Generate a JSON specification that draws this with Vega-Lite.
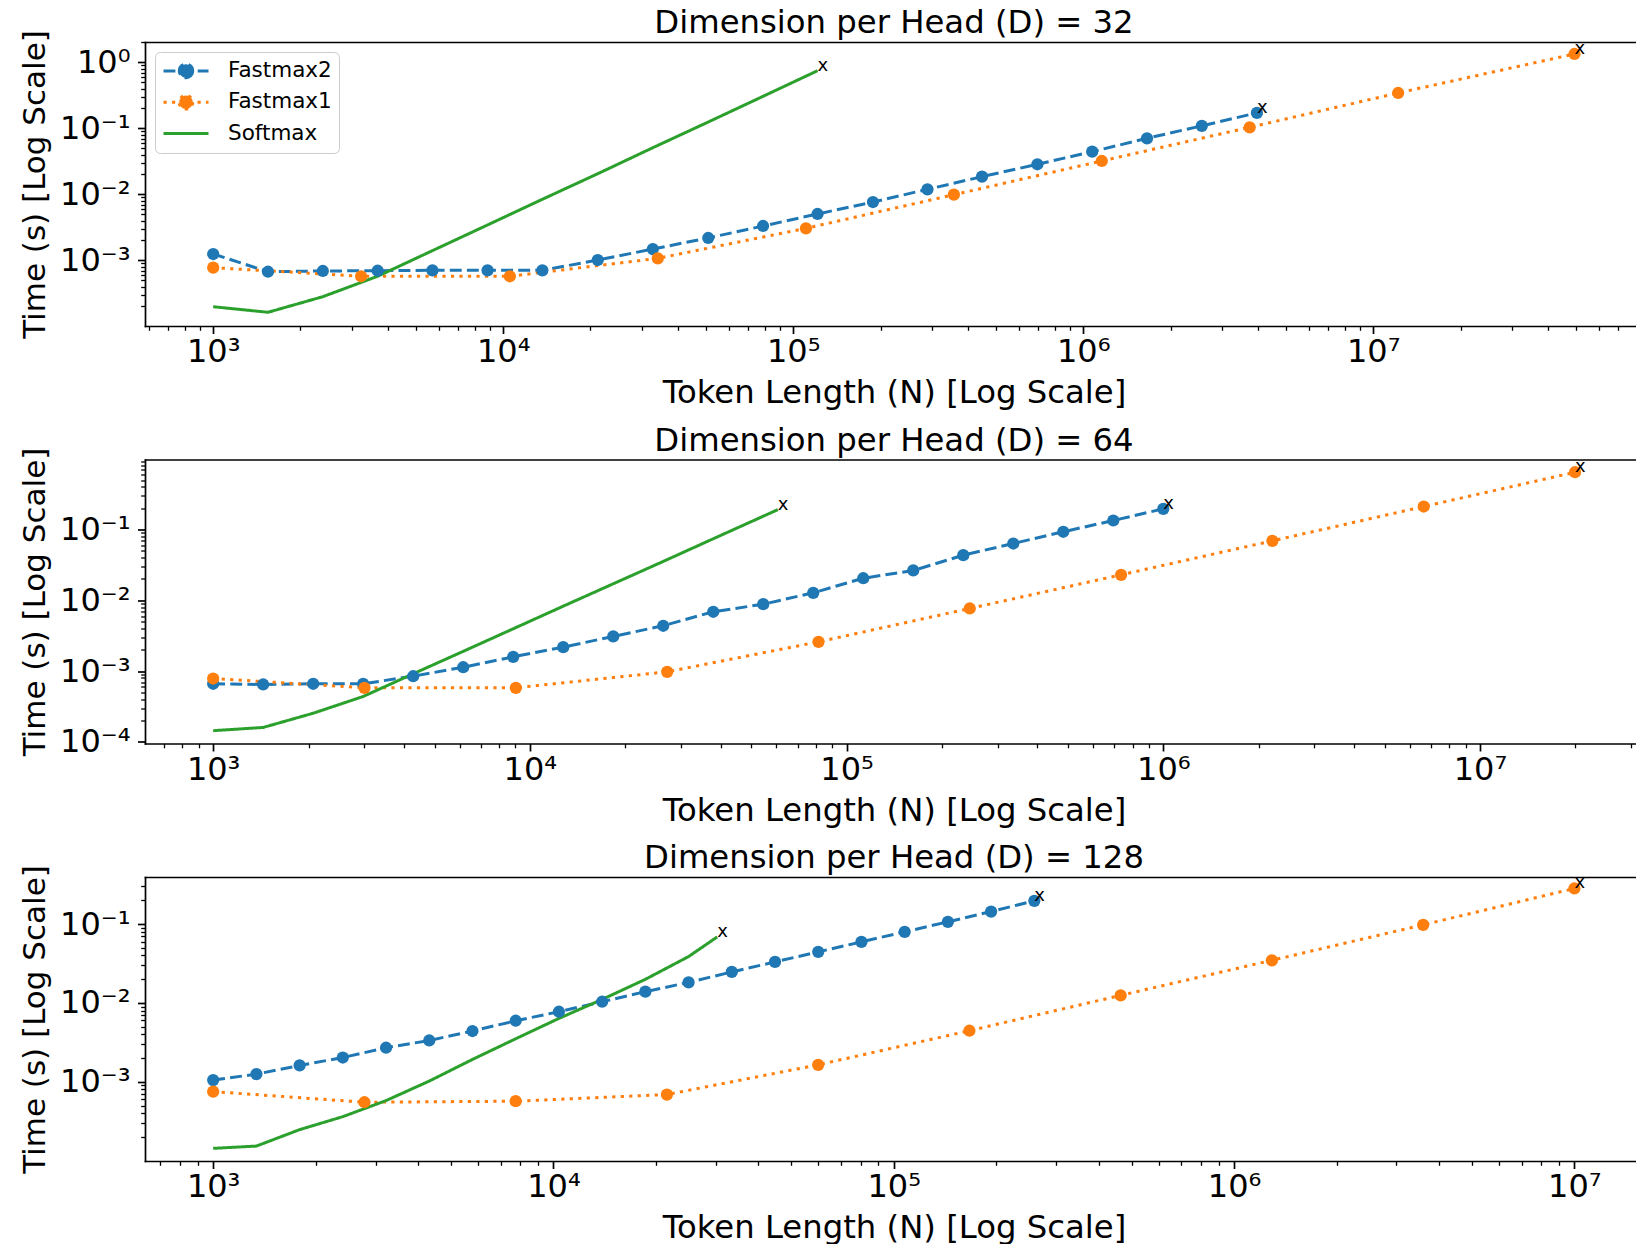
{
  "$schema": "https://vega.github.io/schema/vega-lite/v6.json",
  "padding": {"left": 19, "top": 6, "right": 0, "bottom": 0},
  "autosize": {"type": "pad"},
  "background": "white",
  "spacing": 13.5,
  "resolve": {"legend": {"color": "independent", "strokeDash": "independent", "shape": "independent"}},
  "config": {
    "font": "DejaVu Sans",
    "view": {"stroke": "transparent"},
    "axis": {"grid": false, "domain": false, "domainColor": "#000000", "domainWidth": 1.7, "domainCap": "square", "tickColor": "#000000", "labelColor": "#000000", "titleColor": "#000000", "labelFont": "DejaVu Sans", "titleFont": "DejaVu Sans", "labelFontSize": 32, "titleFontSize": 32.3, "titleFontWeight": "normal", "tickWidth": 1.7, "tickSize": 7.5},
    "axisLeft": {"titleFontSize": 31},
    "title": {"font": "DejaVu Sans", "fontSize": 32.3, "fontWeight": "normal", "color": "#000000", "anchor": "middle", "frame": "group", "baseline": "alphabetic", "offset": -10, "dx": 4}
  },
  "data": {"values": [
    {"D":32,"series":"Fastmax2","N":1000,"t":0.001245},
    {"D":32,"series":"Fastmax2","N":1545,"t":0.000671},
    {"D":32,"series":"Fastmax2","N":2388,"t":0.000689},
    {"D":32,"series":"Fastmax2","N":3690,"t":0.000695},
    {"D":32,"series":"Fastmax2","N":5702,"t":0.000705},
    {"D":32,"series":"Fastmax2","N":8831,"t":0.000705},
    {"D":32,"series":"Fastmax2","N":13646,"t":0.000705},
    {"D":32,"series":"Fastmax2","N":21184,"t":0.00101},
    {"D":32,"series":"Fastmax2","N":32810,"t":0.00148},
    {"D":32,"series":"Fastmax2","N":50933,"t":0.00218},
    {"D":32,"series":"Fastmax2","N":78705,"t":0.00331},
    {"D":32,"series":"Fastmax2","N":121339,"t":0.00503},
    {"D":32,"series":"Fastmax2","N":188365,"t":0.00764},
    {"D":32,"series":"Fastmax2","N":290402,"t":0.0119},
    {"D":32,"series":"Fastmax2","N":447713,"t":0.0185},
    {"D":32,"series":"Fastmax2","N":695024,"t":0.0285},
    {"D":32,"series":"Fastmax2","N":1073989,"t":0.0442},
    {"D":32,"series":"Fastmax2","N":1659587,"t":0.0705},
    {"D":32,"series":"Fastmax2","N":2564484,"t":0.109},
    {"D":32,"series":"Fastmax2","N":3971915,"t":0.171},
    {"D":32,"series":"Fastmax1","N":1000,"t":0.000773},
    {"D":32,"series":"Fastmax1","N":3236,"t":0.000573},
    {"D":32,"series":"Fastmax1","N":10544,"t":0.000573},
    {"D":32,"series":"Fastmax1","N":34119,"t":0.00107},
    {"D":32,"series":"Fastmax1","N":110662,"t":0.00305},
    {"D":32,"series":"Fastmax1","N":358096,"t":0.00986},
    {"D":32,"series":"Fastmax1","N":1159000,"t":0.032},
    {"D":32,"series":"Fastmax1","N":3750000,"t":0.1035},
    {"D":32,"series":"Fastmax1","N":12190000,"t":0.343},
    {"D":32,"series":"Fastmax1","N":49430000,"t":1.337},
    {"D":32,"series":"Softmax","N":1000,"t":0.000198},
    {"D":32,"series":"Softmax","N":1545,"t":0.000163},
    {"D":32,"series":"Softmax","N":2388,"t":0.000281},
    {"D":32,"series":"Softmax","N":3690,"t":0.000573},
    {"D":32,"series":"Softmax","N":5702,"t":0.0014},
    {"D":32,"series":"Softmax","N":8831,"t":0.00343},
    {"D":32,"series":"Softmax","N":13646,"t":0.0084},
    {"D":32,"series":"Softmax","N":21184,"t":0.0205},
    {"D":32,"series":"Softmax","N":32810,"t":0.0508},
    {"D":32,"series":"Softmax","N":50933,"t":0.1245},
    {"D":32,"series":"Softmax","N":78705,"t":0.305},
    {"D":32,"series":"Softmax","N":121339,"t":0.746},
    {"D":64,"series":"Fastmax2","N":1000,"t":0.000662},
    {"D":64,"series":"Fastmax2","N":1438,"t":0.000647},
    {"D":64,"series":"Fastmax2","N":2069,"t":0.000662},
    {"D":64,"series":"Fastmax2","N":2976,"t":0.000662},
    {"D":64,"series":"Fastmax2","N":4281,"t":0.000847},
    {"D":64,"series":"Fastmax2","N":6158,"t":0.001135},
    {"D":64,"series":"Fastmax2","N":8859,"t":0.00159},
    {"D":64,"series":"Fastmax2","N":12743,"t":0.00218},
    {"D":64,"series":"Fastmax2","N":18330,"t":0.00309},
    {"D":64,"series":"Fastmax2","N":26367,"t":0.00437},
    {"D":64,"series":"Fastmax2","N":37927,"t":0.00689},
    {"D":64,"series":"Fastmax2","N":54556,"t":0.00881},
    {"D":64,"series":"Fastmax2","N":78476,"t":0.01276},
    {"D":64,"series":"Fastmax2","N":112884,"t":0.0205},
    {"D":64,"series":"Fastmax2","N":162378,"t":0.0264},
    {"D":64,"series":"Fastmax2","N":233572,"t":0.0434},
    {"D":64,"series":"Fastmax2","N":335982,"t":0.0634},
    {"D":64,"series":"Fastmax2","N":483293,"t":0.0929},
    {"D":64,"series":"Fastmax2","N":695193,"t":0.134},
    {"D":64,"series":"Fastmax2","N":1000000,"t":0.196},
    {"D":64,"series":"Fastmax1","N":1000,"t":0.000785},
    {"D":64,"series":"Fastmax1","N":3005,"t":0.000581},
    {"D":64,"series":"Fastmax1","N":9029,"t":0.000581},
    {"D":64,"series":"Fastmax1","N":27135,"t":0.000977},
    {"D":64,"series":"Fastmax1","N":81539,"t":0.00259},
    {"D":64,"series":"Fastmax1","N":244840,"t":0.00766},
    {"D":64,"series":"Fastmax1","N":735700,"t":0.0229},
    {"D":64,"series":"Fastmax1","N":2210600,"t":0.0692},
    {"D":64,"series":"Fastmax1","N":6642000,"t":0.211},
    {"D":64,"series":"Fastmax1","N":19950000,"t":0.644},
    {"D":64,"series":"Softmax","N":1000,"t":0.000144},
    {"D":64,"series":"Softmax","N":1438,"t":0.00016},
    {"D":64,"series":"Softmax","N":2069,"t":0.000254},
    {"D":64,"series":"Softmax","N":2976,"t":0.000438},
    {"D":64,"series":"Softmax","N":4281,"t":0.000916},
    {"D":64,"series":"Softmax","N":6158,"t":0.0019},
    {"D":64,"series":"Softmax","N":8859,"t":0.00396},
    {"D":64,"series":"Softmax","N":12743,"t":0.00826},
    {"D":64,"series":"Softmax","N":18330,"t":0.0171},
    {"D":64,"series":"Softmax","N":26367,"t":0.0354},
    {"D":64,"series":"Softmax","N":37927,"t":0.074},
    {"D":64,"series":"Softmax","N":54556,"t":0.154},
    {"D":64,"series":"Softmax","N":60674,"t":0.191},
    {"D":128,"series":"Fastmax2","N":1000,"t":0.00105},
    {"D":128,"series":"Fastmax2","N":1340,"t":0.00125},
    {"D":128,"series":"Fastmax2","N":1795,"t":0.00161},
    {"D":128,"series":"Fastmax2","N":2404,"t":0.00203},
    {"D":128,"series":"Fastmax2","N":3221,"t":0.0027},
    {"D":128,"series":"Fastmax2","N":4315,"t":0.00334},
    {"D":128,"series":"Fastmax2","N":5781,"t":0.0044},
    {"D":128,"series":"Fastmax2","N":7745,"t":0.00594},
    {"D":128,"series":"Fastmax2","N":10375,"t":0.00773},
    {"D":128,"series":"Fastmax2","N":13900,"t":0.01035},
    {"D":128,"series":"Fastmax2","N":18621,"t":0.01387},
    {"D":128,"series":"Fastmax2","N":24946,"t":0.0182},
    {"D":128,"series":"Fastmax2","N":33420,"t":0.0247},
    {"D":128,"series":"Fastmax2","N":44771,"t":0.0331},
    {"D":128,"series":"Fastmax2","N":59979,"t":0.0444},
    {"D":128,"series":"Fastmax2","N":80353,"t":0.0594},
    {"D":128,"series":"Fastmax2","N":107647,"t":0.0796},
    {"D":128,"series":"Fastmax2","N":144212,"t":0.1066},
    {"D":128,"series":"Fastmax2","N":193197,"t":0.144},
    {"D":128,"series":"Fastmax2","N":258821,"t":0.197},
    {"D":128,"series":"Fastmax1","N":1000,"t":0.00075},
    {"D":128,"series":"Fastmax1","N":2783,"t":0.00055},
    {"D":128,"series":"Fastmax1","N":7743,"t":0.000567},
    {"D":128,"series":"Fastmax1","N":21544,"t":0.000688},
    {"D":128,"series":"Fastmax1","N":59948,"t":0.00164},
    {"D":128,"series":"Fastmax1","N":166810,"t":0.00444},
    {"D":128,"series":"Fastmax1","N":464159,"t":0.01245},
    {"D":128,"series":"Fastmax1","N":1291550,"t":0.0347},
    {"D":128,"series":"Fastmax1","N":3593814,"t":0.0977},
    {"D":128,"series":"Fastmax1","N":10000000,"t":0.2825},
    {"D":128,"series":"Softmax","N":1000,"t":0.000143},
    {"D":128,"series":"Softmax","N":1340,"t":0.000153},
    {"D":128,"series":"Softmax","N":1795,"t":0.000247},
    {"D":128,"series":"Softmax","N":2404,"t":0.000361},
    {"D":128,"series":"Softmax","N":3221,"t":0.000577},
    {"D":128,"series":"Softmax","N":4315,"t":0.00102},
    {"D":128,"series":"Softmax","N":5781,"t":0.00192},
    {"D":128,"series":"Softmax","N":7745,"t":0.00351},
    {"D":128,"series":"Softmax","N":10375,"t":0.00636},
    {"D":128,"series":"Softmax","N":13900,"t":0.01107},
    {"D":128,"series":"Softmax","N":18621,"t":0.0199},
    {"D":128,"series":"Softmax","N":24946,"t":0.0387},
    {"D":128,"series":"Softmax","N":30290,"t":0.0687}
  ]},
  "vconcat": [
    {
      "title": {"text": "Dimension per Head (D) = 32"},
      "width": 1490, "height": 284,
      "transform": [{"filter": "datum.D == 32"}],
      "resolve": {"axis": {"x": "independent", "y": "independent"}},
      "layer": [
        {
          "mark": {"type": "line", "strokeWidth": 3, "strokeCap": "butt"},
          "encoding": {
            "x": {"field": "N", "type": "quantitative", "scale": {"type": "log", "domain": [581.9, 79930000], "nice": false},
              "axis": {"orient": "bottom", "domain": true, "values": [1000, 10000, 100000, 1000000, 10000000], "title": "Token Length (N) [Log Scale]", "titleX": 749, "labelExpr": "'10' + (datum.value < 1 ? '⁻' : '') + ['⁰','¹','²','³','⁴','⁵','⁶','⁷','⁸','⁹'][abs(round(log(datum.value)/LN10))]", "tickSize": 7.5, "labelPadding": 3, "titlePadding": 9, "labelFlush": false, "labelOverlap": false}},
            "y": {"field": "t", "type": "quantitative", "scale": {"type": "log", "domain": [0.00010104, 2.03], "nice": false},
              "axis": {"orient": "left", "domain": true, "values": [0.001, 0.01, 0.1, 1], "title": "Time (s) [Log Scale]", "labelExpr": "'10' + (datum.value < 0.99 ? '⁻' : '') + ['⁰','¹','²','³','⁴','⁵','⁶','⁷','⁸','⁹'][abs(round(log(datum.value)/LN10))]", "tickSize": 7.5, "labelPadding": 7.5, "titlePadding": 8, "labelFlush": false, "labelOverlap": false}},
            "color": {"field": "series", "type": "nominal", "scale": {"domain": ["Fastmax2", "Fastmax1", "Softmax"], "range": ["#1f77b4", "#ff7f0e", "#2ca02c"]},
              "legend": {"title": null, "orient": "top-left", "offset": 10, "padding": 7, "fillColor": "white", "strokeColor": "#cccccc", "cornerRadius": 5, "labelFont": "DejaVu Sans", "labelFontSize": 21.5, "labelColor": "#000000", "symbolSize": 2025, "symbolStrokeWidth": 3, "symbolOpacity": 1, "clipHeight": 24, "rowPadding": 7.3, "labelOffset": 18}},
            "strokeDash": {"field": "series", "type": "nominal", "scale": {"domain": ["Fastmax2", "Fastmax1", "Softmax"], "range": [[11.9, 5.2], [3.2, 5.3], [1, 0]]},
              "legend": {"title": null, "orient": "top-left", "offset": 10, "padding": 7, "fillColor": "white", "strokeColor": "#cccccc", "cornerRadius": 5, "labelFont": "DejaVu Sans", "labelFontSize": 21.5, "labelColor": "#000000", "symbolSize": 2025, "symbolStrokeWidth": 3, "symbolOpacity": 1, "clipHeight": 24, "rowPadding": 7.3, "labelOffset": 18}}
          }
        },
        {
          "transform": [{"filter": "datum.series != 'Softmax'"}],
          "mark": {"type": "circle", "size": 150, "opacity": 1},
          "encoding": {
            "x": {"field": "N", "type": "quantitative", "scale": {"type": "log", "domain": [581.9, 79930000], "nice": false},
              "axis": {"orient": "bottom", "values": [600,700,800,900,2000,3000,4000,5000,6000,7000,8000,9000,20000,30000,40000,50000,60000,70000,80000,90000,200000,300000,400000,500000,600000,700000,800000,900000,2000000,3000000,4000000,5000000,6000000,7000000,8000000,9000000,20000000,30000000,40000000,50000000,60000000,70000000], "labels": false, "title": null, "tickSize": 4.3, "tickWidth": 1.3}},
            "y": {"field": "t", "type": "quantitative", "scale": {"type": "log", "domain": [0.00010104, 2.03], "nice": false},
              "axis": {"orient": "left", "values": [0.0002,0.0003,0.0004,0.0005,0.0006,0.0007,0.0008,0.0009,0.002,0.003,0.004,0.005,0.006,0.007,0.008,0.009,0.02,0.03,0.04,0.05,0.06,0.07,0.08,0.09,0.2,0.3,0.4,0.5,0.6,0.7,0.8,0.9,2], "labels": false, "title": null, "tickSize": 4.3, "tickWidth": 1.3}},
            "color": {"field": "series", "type": "nominal", "scale": {"domain": ["Fastmax2", "Fastmax1", "Softmax"], "range": ["#1f77b4", "#ff7f0e", "#2ca02c"]},
              "legend": {"title": null, "orient": "top-left", "offset": 10, "padding": 7, "fillColor": "white", "strokeColor": "#cccccc", "cornerRadius": 5, "labelFont": "DejaVu Sans", "labelFontSize": 21.5, "labelColor": "#000000", "symbolSize": 2025, "symbolStrokeWidth": 3, "symbolOpacity": 1, "clipHeight": 24, "rowPadding": 7.3, "labelOffset": 18}}
          }
        },
        {
          "mark": {"type": "point", "filled": true, "opacity": 0, "size": 10},
          "encoding": {
            "x": {"field": "N", "type": "quantitative", "scale": {"type": "log", "domain": [581.9, 79930000], "nice": false}, "axis": null},
            "y": {"field": "t", "type": "quantitative", "scale": {"type": "log", "domain": [0.00010104, 2.03], "nice": false}, "axis": null},
            "color": {"field": "series", "type": "nominal", "scale": {"domain": ["Fastmax2", "Fastmax1", "Softmax"], "range": ["#1f77b4", "#ff7f0e", "#2ca02c"]},
              "legend": {"title": null, "orient": "top-left", "offset": 10, "padding": 7, "fillColor": "white", "strokeColor": "#cccccc", "cornerRadius": 5, "labelFont": "DejaVu Sans", "labelFontSize": 21.5, "labelColor": "#000000", "symbolSize": 2025, "symbolStrokeWidth": 3, "symbolOpacity": 1, "clipHeight": 24, "rowPadding": 7.3, "labelOffset": 18}},
            "shape": {"field": "series", "type": "nominal", "scale": {"domain": ["Fastmax2", "Fastmax1", "Softmax"], "range": ["M-1,0L1,0M0.3,0A0.3,0.3,0,1,1,-0.3,0A0.3,0.3,0,1,1,0.3,0Z", "M-1,0L1,0M0.3,0A0.3,0.3,0,1,1,-0.3,0A0.3,0.3,0,1,1,0.3,0Z", "M-1,0L1,0"]},
              "legend": {"title": null, "orient": "top-left", "offset": 10, "padding": 7, "fillColor": "white", "strokeColor": "#cccccc", "cornerRadius": 5, "labelFont": "DejaVu Sans", "labelFontSize": 21.5, "labelColor": "#000000", "symbolSize": 2025, "symbolStrokeWidth": 3, "symbolOpacity": 1, "clipHeight": 24, "rowPadding": 7.3, "labelOffset": 18}}
          }
        },
        {
          "transform": [{"aggregate": [{"op": "argmax", "field": "N", "as": "last"}], "groupby": ["series"]}],
          "mark": {"type": "text", "text": "x", "align": "left", "baseline": "alphabetic", "fontSize": 18, "font": "DejaVu Sans", "color": "#000000"},
          "encoding": {
            "x": {"field": "last.N", "type": "quantitative", "scale": {"type": "log", "domain": [581.9, 79930000], "nice": false}, "axis": {"orient": "top", "domain": true, "ticks": false, "labels": false, "title": null}},
            "y": {"field": "last.t", "type": "quantitative", "scale": {"type": "log", "domain": [0.00010104, 2.03], "nice": false}, "axis": null}
          }
        }
      ]
    },
    {
      "title": {"text": "Dimension per Head (D) = 64"},
      "width": 1490, "height": 284,
      "transform": [{"filter": "datum.D == 64"}],
      "resolve": {"axis": {"x": "independent", "y": "independent"}},
      "layer": [
        {
          "mark": {"type": "line", "strokeWidth": 3, "strokeCap": "butt"},
          "encoding": {
            "x": {"field": "N", "type": "quantitative", "scale": {"type": "log", "domain": [609.2, 30860000], "nice": false},
              "axis": {"orient": "bottom", "domain": true, "values": [1000, 10000, 100000, 1000000, 10000000], "title": "Token Length (N) [Log Scale]", "titleX": 749, "labelExpr": "'10' + (datum.value < 1 ? '⁻' : '') + ['⁰','¹','²','³','⁴','⁵','⁶','⁷','⁸','⁹'][abs(round(log(datum.value)/LN10))]", "tickSize": 7.5, "labelPadding": 3, "titlePadding": 9, "labelFlush": false, "labelOverlap": false}},
            "y": {"field": "t", "type": "quantitative", "scale": {"type": "log", "domain": [0.00009493, 0.9743], "nice": false},
              "axis": {"orient": "left", "domain": true, "values": [0.0001, 0.001, 0.01, 0.1], "title": "Time (s) [Log Scale]", "labelExpr": "'10' + (datum.value < 0.99 ? '⁻' : '') + ['⁰','¹','²','³','⁴','⁵','⁶','⁷','⁸','⁹'][abs(round(log(datum.value)/LN10))]", "tickSize": 7.5, "labelPadding": 7.5, "titlePadding": 8, "labelFlush": false, "labelOverlap": false}},
            "color": {"field": "series", "type": "nominal", "scale": {"domain": ["Fastmax2", "Fastmax1", "Softmax"], "range": ["#1f77b4", "#ff7f0e", "#2ca02c"]}, "legend": null},
            "strokeDash": {"field": "series", "type": "nominal", "scale": {"domain": ["Fastmax2", "Fastmax1", "Softmax"], "range": [[11.9, 5.2], [3.2, 5.3], [1, 0]]}, "legend": null}
          }
        },
        {
          "transform": [{"filter": "datum.series != 'Softmax'"}],
          "mark": {"type": "circle", "size": 150, "opacity": 1},
          "encoding": {
            "x": {"field": "N", "type": "quantitative", "scale": {"type": "log", "domain": [609.2, 30860000], "nice": false},
              "axis": {"orient": "bottom", "values": [700,800,900,2000,3000,4000,5000,6000,7000,8000,9000,20000,30000,40000,50000,60000,70000,80000,90000,200000,300000,400000,500000,600000,700000,800000,900000,2000000,3000000,4000000,5000000,6000000,7000000,8000000,9000000,20000000,30000000], "labels": false, "title": null, "tickSize": 4.3, "tickWidth": 1.3}},
            "y": {"field": "t", "type": "quantitative", "scale": {"type": "log", "domain": [0.00009493, 0.9743], "nice": false},
              "axis": {"orient": "left", "values": [0.0002,0.0003,0.0004,0.0005,0.0006,0.0007,0.0008,0.0009,0.002,0.003,0.004,0.005,0.006,0.007,0.008,0.009,0.02,0.03,0.04,0.05,0.06,0.07,0.08,0.09,0.2,0.3,0.4,0.5,0.6,0.7,0.8,0.9], "labels": false, "title": null, "tickSize": 4.3, "tickWidth": 1.3}},
            "color": {"field": "series", "type": "nominal", "scale": {"domain": ["Fastmax2", "Fastmax1", "Softmax"], "range": ["#1f77b4", "#ff7f0e", "#2ca02c"]}, "legend": null}
          }
        },
        {
          "transform": [{"aggregate": [{"op": "argmax", "field": "N", "as": "last"}], "groupby": ["series"]}],
          "mark": {"type": "text", "text": "x", "align": "left", "baseline": "alphabetic", "fontSize": 18, "font": "DejaVu Sans", "color": "#000000"},
          "encoding": {
            "x": {"field": "last.N", "type": "quantitative", "scale": {"type": "log", "domain": [609.2, 30860000], "nice": false}, "axis": {"orient": "top", "domain": true, "ticks": false, "labels": false, "title": null}},
            "y": {"field": "last.t", "type": "quantitative", "scale": {"type": "log", "domain": [0.00009493, 0.9743], "nice": false}, "axis": null}
          }
        }
      ]
    },
    {
      "title": {"text": "Dimension per Head (D) = 128"},
      "width": 1490, "height": 284,
      "transform": [{"filter": "datum.D == 128"}],
      "resolve": {"axis": {"x": "independent", "y": "independent"}},
      "layer": [
        {
          "mark": {"type": "line", "strokeWidth": 3, "strokeCap": "butt"},
          "encoding": {
            "x": {"field": "N", "type": "quantitative", "scale": {"type": "log", "domain": [630.5, 15070000], "nice": false},
              "axis": {"orient": "bottom", "domain": true, "values": [1000, 10000, 100000, 1000000, 10000000], "title": "Token Length (N) [Log Scale]", "titleX": 749, "labelExpr": "'10' + (datum.value < 1 ? '⁻' : '') + ['⁰','¹','²','³','⁴','⁵','⁶','⁷','⁸','⁹'][abs(round(log(datum.value)/LN10))]", "tickSize": 7.5, "labelPadding": 3, "titlePadding": 9, "labelFlush": false, "labelOverlap": false}},
            "y": {"field": "t", "type": "quantitative", "scale": {"type": "log", "domain": [0.0000989, 0.395], "nice": false},
              "axis": {"orient": "left", "domain": true, "values": [0.001, 0.01, 0.1], "title": "Time (s) [Log Scale]", "labelExpr": "'10' + (datum.value < 0.99 ? '⁻' : '') + ['⁰','¹','²','³','⁴','⁵','⁶','⁷','⁸','⁹'][abs(round(log(datum.value)/LN10))]", "tickSize": 7.5, "labelPadding": 7.5, "titlePadding": 8, "labelFlush": false, "labelOverlap": false}},
            "color": {"field": "series", "type": "nominal", "scale": {"domain": ["Fastmax2", "Fastmax1", "Softmax"], "range": ["#1f77b4", "#ff7f0e", "#2ca02c"]}, "legend": null},
            "strokeDash": {"field": "series", "type": "nominal", "scale": {"domain": ["Fastmax2", "Fastmax1", "Softmax"], "range": [[11.9, 5.2], [3.2, 5.3], [1, 0]]}, "legend": null}
          }
        },
        {
          "transform": [{"filter": "datum.series != 'Softmax'"}],
          "mark": {"type": "circle", "size": 150, "opacity": 1},
          "encoding": {
            "x": {"field": "N", "type": "quantitative", "scale": {"type": "log", "domain": [630.5, 15070000], "nice": false},
              "axis": {"orient": "bottom", "values": [700,800,900,2000,3000,4000,5000,6000,7000,8000,9000,20000,30000,40000,50000,60000,70000,80000,90000,200000,300000,400000,500000,600000,700000,800000,900000,2000000,3000000,4000000,5000000,6000000,7000000,8000000,9000000], "labels": false, "title": null, "tickSize": 4.3, "tickWidth": 1.3}},
            "y": {"field": "t", "type": "quantitative", "scale": {"type": "log", "domain": [0.0000989, 0.395], "nice": false},
              "axis": {"orient": "left", "values": [0.0002,0.0003,0.0004,0.0005,0.0006,0.0007,0.0008,0.0009,0.002,0.003,0.004,0.005,0.006,0.007,0.008,0.009,0.02,0.03,0.04,0.05,0.06,0.07,0.08,0.09,0.2,0.3], "labels": false, "title": null, "tickSize": 4.3, "tickWidth": 1.3}},
            "color": {"field": "series", "type": "nominal", "scale": {"domain": ["Fastmax2", "Fastmax1", "Softmax"], "range": ["#1f77b4", "#ff7f0e", "#2ca02c"]}, "legend": null}
          }
        },
        {
          "transform": [{"aggregate": [{"op": "argmax", "field": "N", "as": "last"}], "groupby": ["series"]}],
          "mark": {"type": "text", "text": "x", "align": "left", "baseline": "alphabetic", "fontSize": 18, "font": "DejaVu Sans", "color": "#000000"},
          "encoding": {
            "x": {"field": "last.N", "type": "quantitative", "scale": {"type": "log", "domain": [630.5, 15070000], "nice": false}, "axis": {"orient": "top", "domain": true, "ticks": false, "labels": false, "title": null}},
            "y": {"field": "last.t", "type": "quantitative", "scale": {"type": "log", "domain": [0.0000989, 0.395], "nice": false}, "axis": null}
          }
        }
      ]
    }
  ]
}
